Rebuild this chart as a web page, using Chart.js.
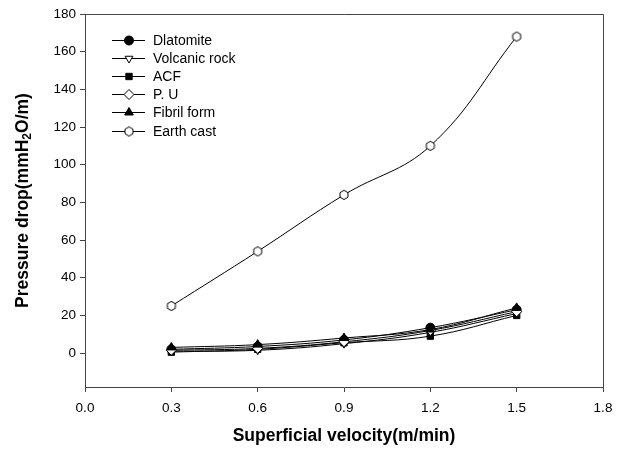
<!DOCTYPE html>
<html>
<head>
<meta charset="utf-8">
<script src="https://cdn.jsdelivr.net/npm/chart.js@4"></script>
<style>
html,body{margin:0;padding:0;background:#fff;}
#wrap{width:625px;height:451px;position:relative;}
</style>
</head>
<body>
<div id="wrap"><canvas id="c" width="625" height="451"></canvas></div>
<script>
const velocities = [0.3, 0.6, 0.9, 1.2, 1.5];
const diatomite = [2, 3.5, 7, 13.5, 23];
const volcanicRock = [1, 1.5, 5, 11, 21];
const acf = [0.5, 2, 5.5, 9, 20];
const pu = [1.5, 2.5, 6, 12, 22];
const fibrilForm = [3, 4.5, 8, 12.5, 24];
const earthCast = [25, 54, 84, 110, 168];
const seriesNames = ["Dlatomite", "Volcanic rock", "ACF", "P. U", "Fibril form", "Earth cast"];
const xTickValues = [0, 0.3, 0.6, 0.9, 1.2, 1.5, 1.8];
const yTickValues = [0, 20, 40, 60, 80, 100, 120, 140, 160, 180];

const FONT = "'Liberation Sans', Arial, sans-serif";

// hexagon marker
function hexagon(r) {
  const s = 14;
  const cv = document.createElement('canvas');
  cv.width = s; cv.height = s;
  const g = cv.getContext('2d');
  g.beginPath();
  for (let i = 0; i < 6; i++) {
    const a = Math.PI / 6 + i * Math.PI / 3;
    const px = s / 2 + r * Math.cos(a), py = s / 2 + r * Math.sin(a);
    if (i === 0) g.moveTo(px, py); else g.lineTo(px, py);
  }
  g.closePath();
  g.fillStyle = '#fff'; g.fill();
  g.lineWidth = 1; g.strokeStyle = '#000'; g.stroke();
  return cv;
}
const hexImg = hexagon(4.6);

const styles = [
  {pointStyle: 'circle', bg: '#000', rot: 0, r: 4.5},
  {pointStyle: 'triangle', bg: '#fff', rot: 180, r: 4.5},
  {pointStyle: 'rect', bg: '#000', rot: 0, r: 4.5},
  {pointStyle: 'rectRot', bg: '#fff', rot: 0, r: 5},
  {pointStyle: 'triangle', bg: '#000', rot: 0, r: 5},
  {pointStyle: hexImg, bg: '#fff', rot: 0, r: 4.5}
];
const values = [diatomite, volcanicRock, acf, pu, fibrilForm, earthCast];

const datasets = values.map((vals, i) => ({
  label: seriesNames[i],
  data: vals.map((v, j) => ({x: velocities[j], y: v})),
  borderColor: '#000',
  borderWidth: 1,
  backgroundColor: styles[i].bg,
  pointBackgroundColor: styles[i].bg,
  pointBorderColor: '#000',
  pointBorderWidth: 1,
  pointStyle: styles[i].pointStyle,
  pointRotation: styles[i].rot,
  pointRadius: styles[i].r,
  tension: 0.4,
  fill: false,
  order: 6 - i
}));

const framePlugin = {
  id: 'frame',
  afterDatasetsDraw(chart) {
    const {ctx, chartArea: a} = chart;
    ctx.save();
    ctx.strokeStyle = '#444';
    ctx.lineWidth = 1;
    ctx.beginPath();
    ctx.moveTo(a.left, a.top + 0.5);
    ctx.lineTo(a.right + 0.5, a.top + 0.5);
    ctx.lineTo(a.right + 0.5, a.bottom);
    ctx.stroke();
    ctx.restore();
  },
  afterDraw(chart) {
    const {ctx, chartArea: a} = chart;
    // legend
    ctx.save();
    chart.data.datasets.forEach((ds, i) => {
      const y = Math.round(a.top + 26 + i * 18.1);
      const x0 = a.left + 27;
      ctx.strokeStyle = '#000';
      ctx.lineWidth = 1;
      ctx.beginPath();
      ctx.moveTo(x0, y + 0.5);
      ctx.lineTo(x0 + 33, y + 0.5);
      ctx.stroke();
      ctx.fillStyle = ds.pointBackgroundColor;
      ctx.strokeStyle = '#000';
      Chart.helpers.drawPoint(ctx, {
        pointStyle: ds.pointStyle, rotation: ds.pointRotation,
        radius: ds.pointRadius, borderWidth: 1
      }, x0 + 17, y + 0.5);
      ctx.fillStyle = '#000';
      ctx.font = '14px ' + FONT;
      ctx.textBaseline = 'middle';
      ctx.textAlign = 'left';
      ctx.fillText(ds.label, a.left + 68, y + 1);
    });
    // y-axis title with subscript
    ctx.translate(23, (a.top + a.bottom) / 2);
    ctx.rotate(-Math.PI / 2);
    ctx.fillStyle = '#000';
    ctx.textBaseline = 'middle';
    const p1 = 'Pressure drop(mmH', p2 = '2', p3 = 'O/m)';
    const bigF = 'bold 17.5px ' + FONT, smallF = 'bold 12px ' + FONT;
    ctx.font = bigF; const w1 = ctx.measureText(p1).width, w3 = ctx.measureText(p3).width;
    ctx.font = smallF; const w2 = ctx.measureText(p2).width;
    let x = -(w1 + w2 + w3) / 2;
    ctx.textAlign = 'left';
    ctx.font = bigF; ctx.fillText(p1, x, 0); x += w1;
    ctx.font = smallF; ctx.fillText(p2, x, 5); x += w2;
    ctx.font = bigF; ctx.fillText(p3, x, 0);
    ctx.restore();
  }
};

new Chart(document.getElementById('c'), {
  type: 'line',
  data: {datasets},
  options: {
    responsive: false,
    animation: false,
    devicePixelRatio: 1,
    layout: {padding: {left: 0, right: 22, top: 14, bottom: 0}},
    plugins: {legend: {display: false}, tooltip: {enabled: false}},
    scales: {
      x: {
        type: 'linear', min: 0, max: 1.8,
        afterBuildTicks(s) { s.ticks = xTickValues.map(v => ({value: v})); },
        afterFit(s) { s.height = 64; },
        grid: {drawOnChartArea: false, drawTicks: true, tickLength: 5, color: '#444'},
        border: {display: true, color: '#444', width: 1},
        ticks: {
          color: '#000', font: {family: FONT, size: 13.5}, padding: 8,
          maxRotation: 0, autoSkip: false,
          callback: v => Number(v).toFixed(1)
        },
        title: {
          display: true, text: 'Superficial velocity(m/min)', color: '#000',
          font: {family: FONT, size: 17.5, weight: 'bold'}, padding: {top: 0, bottom: 4}
        }
      },
      y: {
        type: 'linear', min: -18, max: 180,
        afterBuildTicks(s) { s.ticks = yTickValues.map(v => ({value: v})); },
        afterFit(s) { s.width = 85; },
        grid: {drawOnChartArea: false, drawTicks: true, tickLength: 5, color: '#444'},
        border: {display: true, color: '#444', width: 1},
        ticks: {
          color: '#000', font: {family: FONT, size: 13.5}, padding: 4,
          autoSkip: false
        },
        title: {display: false}
      }
    }
  },
  plugins: [framePlugin]
});
</script>
</body>
</html>
